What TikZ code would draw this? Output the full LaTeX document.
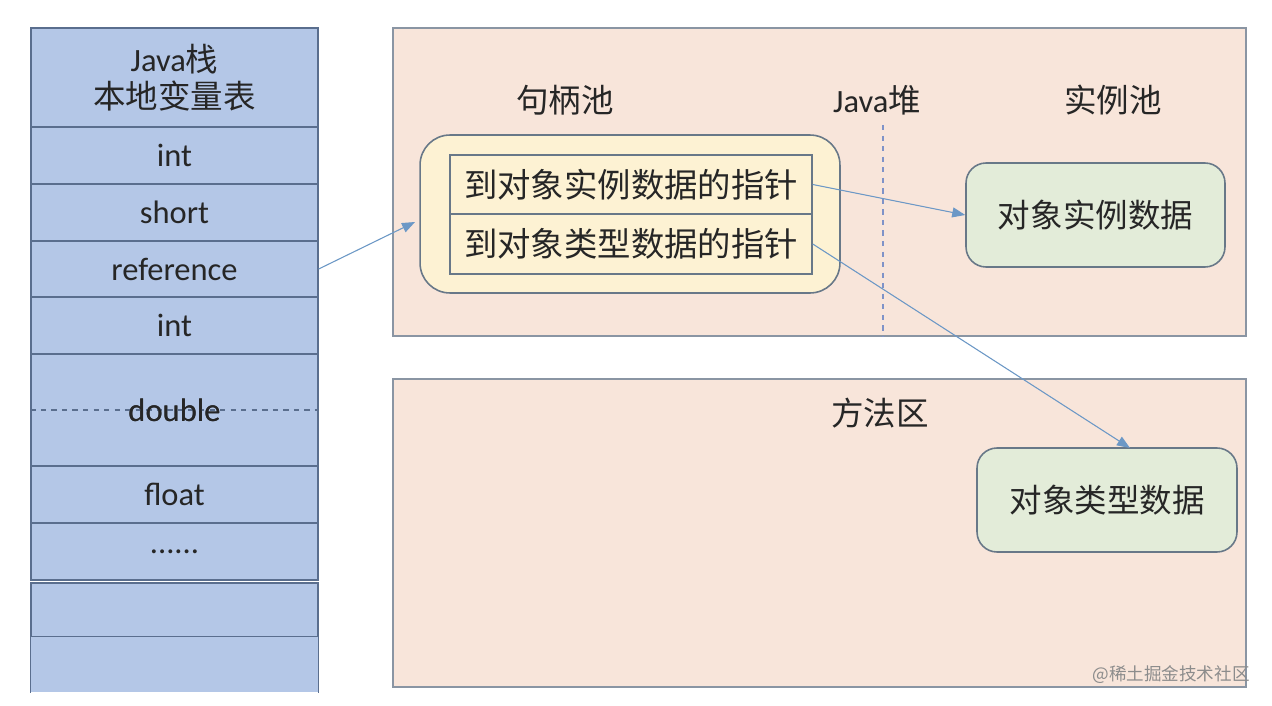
\documentclass[tikz,border=0pt]{standalone}
\usepackage{fontspec}
\setmainfont{Carlito}
\newfontfamily\cjk{Noto Sans CJK SC}
\usetikzlibrary{positioning, arrows.meta}
\definecolor{stackblue}{HTML}{B4C7E7}
\definecolor{stackline}{HTML}{5A6E8E}
\definecolor{heapfill}{HTML}{F8E5DA}
\definecolor{heapline}{HTML}{8A95A3}
\definecolor{poolfill}{HTML}{FDF2D3}
\definecolor{poolline}{HTML}{687888}
\definecolor{datafill}{HTML}{E3ECD9}
\definecolor{arrowblue}{HTML}{6C98C6}
\definecolor{dashblue}{HTML}{7F93C8}
\tikzset{
x=0.02cm, y=-0.02cm, % one unit is one pixel of the original picture
>={Triangle[length=0.26cm, width=0.2cm]}, % filled arrow heads
stackrow/.style={draw=stackline, line width=0.8pt, fill=stackblue, minimum width=5.74cm, inner sep=0pt, font=\fontsize{18.5}{21}\selectfont, text=black!85}, % a slot of the local variable table
area/.style={draw=heapline, line width=1pt, fill=heapfill, minimum width=17.06cm, minimum height=6.16cm}, % heap and method area
pointer/.style={draw=poolline, line width=0.9pt, fill=poolfill, minimum width=7.24cm, inner sep=0pt, font=\cjk\fontsize{19}{22}\selectfont, text=black!85}, % a pointer in the handle
data/.style={draw=poolline, line width=0.9pt, fill=datafill, rounded corners=0.4cm, minimum width=5.2cm, minimum height=2.08cm, font=\cjk\fontsize{18.5}{21}\selectfont, text=black!85}, % object data
title/.style={font=\cjk\fontsize{18.5}{21}\selectfont, text=black!85}, % region titles
link/.style={->, draw=arrowblue, fill=arrowblue, line width=0.6pt}, % references
}
\begin{document}
\begin{tikzpicture}
    \clip (0,0) rectangle (1272,706);
    \fill[white] (0,0) rectangle (1272,706);

    % Java stack
    \node[stackrow, minimum height=1.98cm, align=center] (head) at (174.5,77.5) {Java{\cjk 栈}\\{\cjk 本地变量表}};
    \node[stackrow, minimum height=1.14cm] (int1) at (174.5,155.5) {int};
    \node[stackrow, minimum height=1.14cm] (short) at (174.5,212.5) {short};
    \node[stackrow, minimum height=1.12cm] (ref) at (174.5,269) {reference};
    \node[stackrow, minimum height=1.14cm] (int2) at (174.5,325.5) {int};
    \node[stackrow, minimum height=2.24cm] (double) at (174.5,410) {double};
    \node[stackrow, minimum height=1.14cm] (float) at (174.5,494.5) {float};
    \node[stackrow, minimum height=1.14cm] (more) at (174.5,551.5) {......};
    \node[stackrow, minimum height=1.08cm] (free1) at (174.5,610) {};
    \node[stackrow, draw=none, minimum height=1.1cm] (free2) at (174.5,664.5) {};
    \draw[stackline, line width=0.8pt] (free2.south west) -- (free2.north west) -- (free2.north east) -- (free2.south east);
    \draw[stackline, dashed, line width=0.6pt] (double.west) -- (double.east);
    \node[stackrow, draw=none, fill=none] at (double) {double};

    % heap and method area
    \node[area] (heap) at (819.5,182) {};
    \node[area] (method) at (819.5,533) {};
    \node[title] (pooltitle) at (565,100) {句柄池};
    \node[title] (heaptitle) at (877,100) {{\fontspec{Carlito}Java}堆};
    \node[title] (insttitle) at (1113,100) {实例池};
    \node[title] (methodtitle) at (880,413) {方法区};
    \draw[dashblue, dashed, line width=0.8pt] (883,125) -- (883,336);

    % handle
    \node[draw=poolline, line width=0.9pt, fill=poolfill, rounded corners=0.6cm, minimum width=8.4cm, minimum height=3.16cm] (pool) at (630,214) {};
    \node[pointer, minimum height=1.18cm] (ptr1) at (631,184.5) {到对象实例数据的指针};
    \node[pointer, minimum height=1.2cm] (ptr2) at (631,244) {到对象类型数据的指针};

    % object data
    \node[data, minimum width=5.18cm] (inst) at (1095.5,215) {对象实例数据};
    \node[data] (type) at (1107,500) {对象类型数据};

    \coordinate (poolin) at (415,222);
    \coordinate (typein) at (1130,448);
    \draw[link] (ref.east) -- (poolin);
    \draw[link] (ptr1.east) -- (inst.west);
    \draw[link] (ptr2.east) -- (typein);

    \node[font=\cjk\fontsize{10}{12}\selectfont, text=black!45] (mark) at (1171,675) {@稀土掘金技术社区};
\end{tikzpicture}
\end{document}
